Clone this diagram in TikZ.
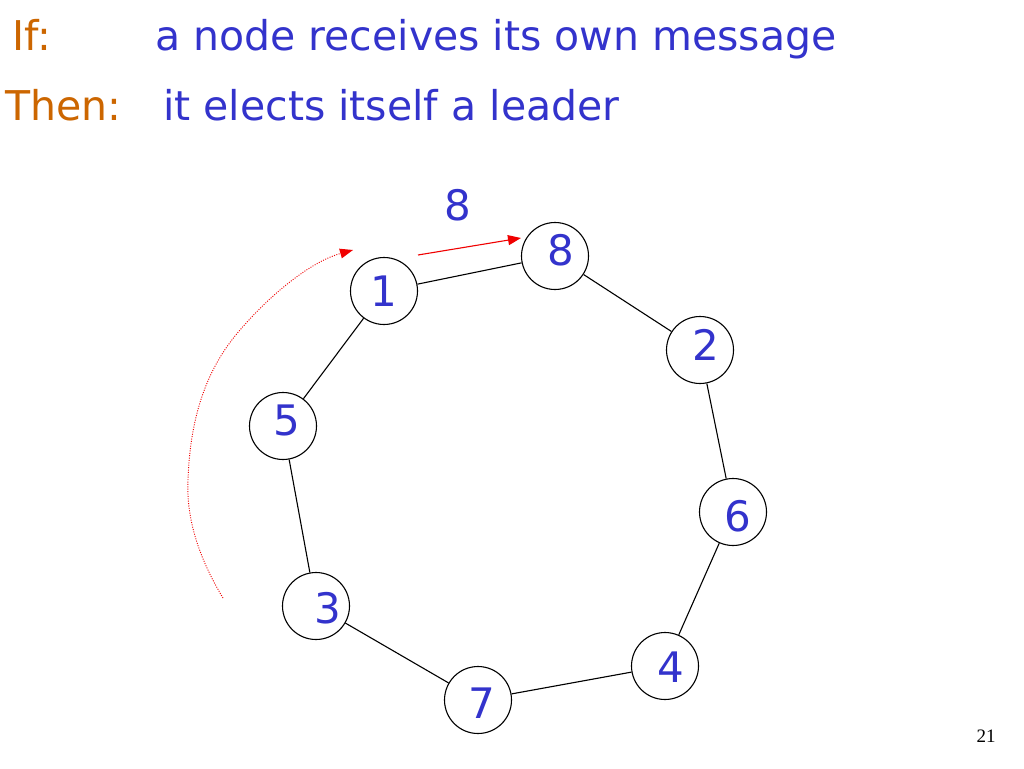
\documentclass[tikz,border=0pt]{standalone}
\usepackage{fontspec}
\setmainfont{DejaVu Sans}
\newfontfamily\pagefont{Liberation Serif}
\usetikzlibrary{arrows.meta,calc}
\definecolor{txtblue}{RGB}{51,51,204}
\definecolor{txtorange}{RGB}{204,102,0}
\definecolor{msgred}{RGB}{240,0,0}
\tikzset{
  ring/.style={circle,draw=black,line width=1.1pt,minimum size=67pt,inner sep=0pt},
  num/.style={text=txtblue,font=\fontsize{42}{42}\selectfont,inner sep=0pt},
  head/.style={anchor=base west,inner sep=0pt,font=\fontsize{41}{41}\selectfont},
  link/.style={line width=1.1pt,draw=black},
  msg/.style={draw=msgred,line width=1.1pt,-{Triangle[length=13pt,width=10pt]},fill=none},
  trail/.style={draw=msgred,line width=0.9pt,dash pattern=on 1pt off 1.4pt,-{Triangle[length=13pt,width=10pt,fill=msgred,line width=0pt]}}
}
\begin{document}
\begin{tikzpicture}[x=1pt,y=-1pt]
\useasboundingbox[fill=white] (0,0) rectangle (1024,768);
% header
\node[head,text=txtorange] (if) at (12,50) {If:};
\node[head,text=txtblue] (cond) at (155,50) {a node receives its own message};
\node[head,text=txtorange] (then) at (5,120) {Then:};
\node[head,text=txtblue] (act) at (163,120) {it elects itself a leader};
% ring nodes
\node[ring,label={[num]center:1}] (n1) at (384,291) {};
\node[ring,label={[num,xshift=6pt,yshift=6pt]center:8}] (n8) at (555,256) {};
\node[ring,label={[num,xshift=6pt,yshift=5pt]center:2}] (n2) at (700,350) {};
\node[ring,label={[num,xshift=5pt,yshift=-4pt]center:6}] (n6) at (733,512) {};
\node[ring,label={[num,xshift=6pt,yshift=-1pt]center:4}] (n4) at (665,666) {};
\node[ring,label={[num,xshift=4pt,yshift=-3pt]center:7}] (n7) at (478,700) {};
\node[ring,label={[num,xshift=12pt,yshift=-2pt]center:3}] (n3) at (316,606) {};
\node[ring,label={[num,xshift=4pt,yshift=6pt]center:5}] (n5) at (283,426) {};
% ring links
\draw[link] (n1) -- (n8);
\draw[link] (n8) -- (n2);
\draw[link] (n2) -- (n6);
\draw[link] (n6) -- (n4);
\draw[link] (n4) -- (n7);
\draw[link] (n7) -- (n3);
\draw[link] (n3) -- (n5);
\draw[link] (n5) -- (n1);
% message
\node[num] (m8) at (458,205) {8};
\coordinate (ms) at (418,255);
\coordinate (me) at (521,238);
\draw[msg] (ms) -- (me);
% dotted trail
\coordinate (ts) at (223,598);
\coordinate (te) at (353,250);
\draw[trail] (ts) .. controls (200,560) and (186,520) .. (188,480)
  .. controls (190,420) and (205,370) .. (240,330)
  .. controls (270,295) and (310,262) .. (te);
% page number
\node[font=\pagefont\fontsize{19}{19}\selectfont,inner sep=0pt] (pg) at (986,736) {21};
\end{tikzpicture}
\end{document}
